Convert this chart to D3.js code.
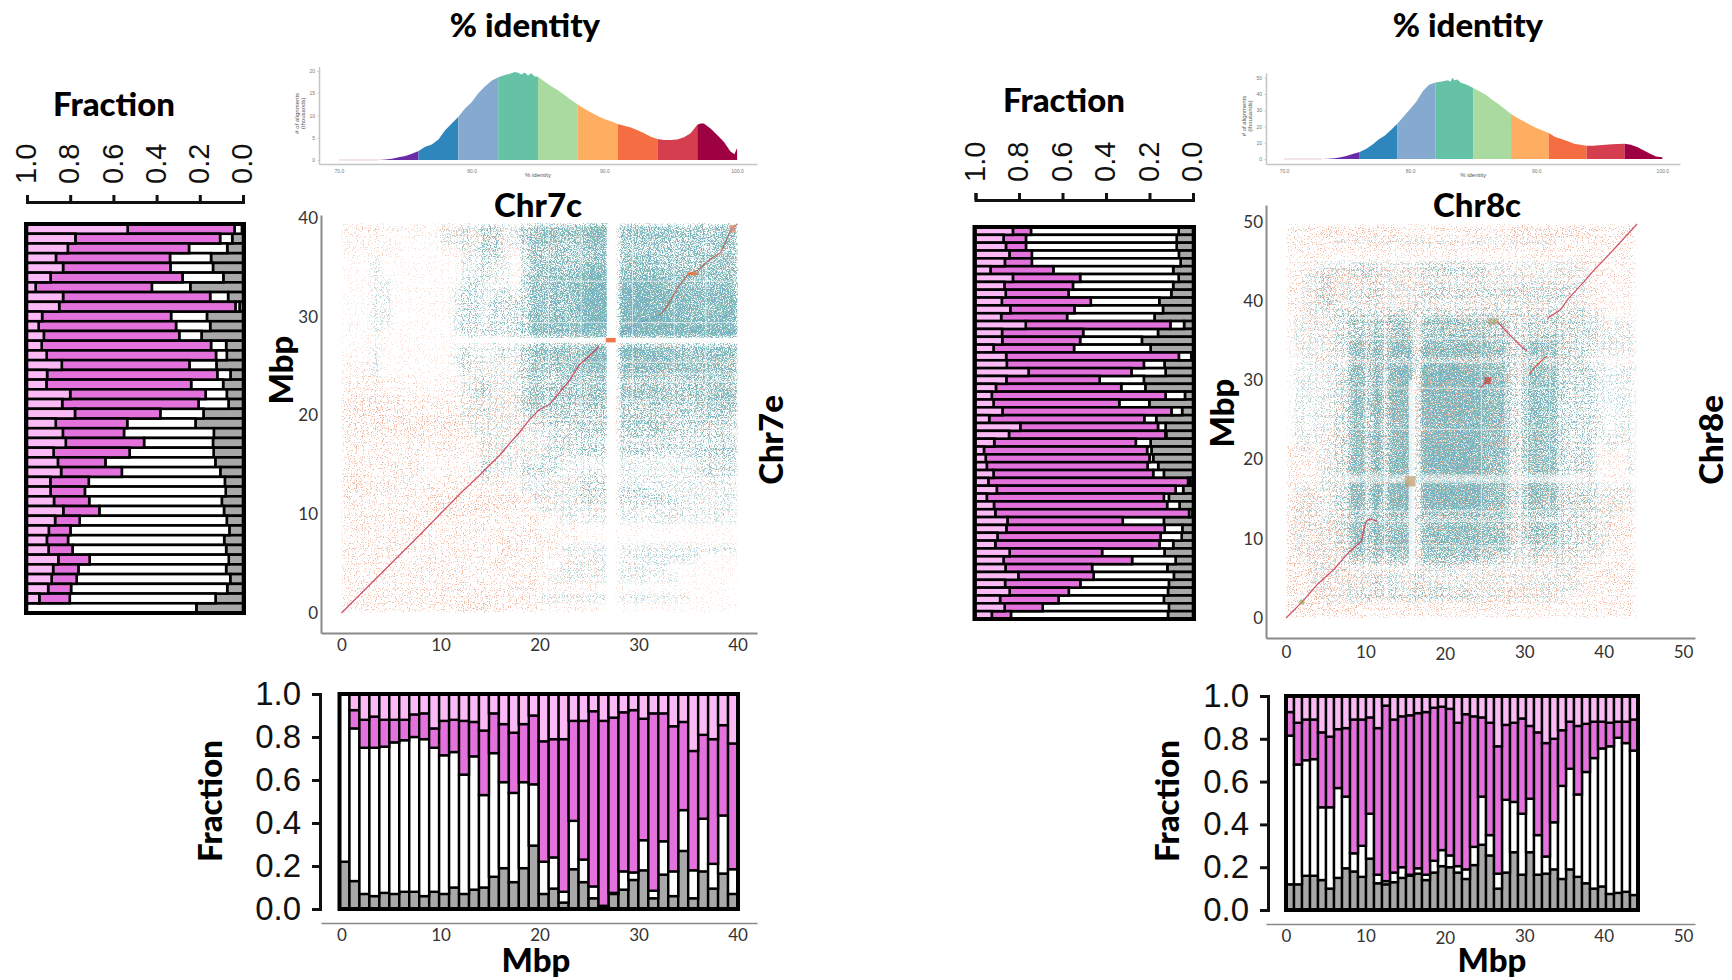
<!doctype html>
<html>
<head>
<meta charset="utf-8">
<style>
  html, body { margin: 0; padding: 0; background: #fff; }
  svg { display: block; }
  .title { font-family: Lato, sans-serif; font-weight: 900; font-size: 33px; fill: #000; text-anchor: middle; }
  .frac text { font-family: "Liberation Sans", sans-serif; fill: #111; }
  .frac line, .frac path { stroke: #111; stroke-width: 3px; fill: none; }
  .mbp text { font-family: Lato, sans-serif; font-size: 17px; fill: #333; }
  .mbp line { display: none; }
  .mbp path { stroke: #8a8a8a; stroke-width: 2px; fill: none; }
  .hist text { font-family: "Liberation Sans", sans-serif; font-size: 5px; fill: #777; }
  .hist line { stroke: #bbb; stroke-width: 0.5px; }
  .hist path { stroke: #c4c4c4; stroke-width: 1.5px; fill: none; }
</style>
<script src="https://d3js.org/d3.v7.min.js"></script>
</head>
<body>
<svg width="1732" height="980"></svg>
<script>
// ---- data ----

var fracTicks = [0, 0.2, 0.4, 0.6, 0.8, 1];
var identityBreaks = [73, 76, 79, 82, 85, 88, 91, 94, 97, 100];
var identityColors = ["#6a2ba8", "#2f86bd", "#86a9cf", "#66c2a5", "#a9dba0", "#fdae61", "#f46d43", "#d53e4f", "#9e0142"];

// % identity histograms
var chr7Identity = [70, 73, 73.5, 74, 74.5, 75, 75.5, 76, 76.5, 77, 77.5, 78, 78.5, 79, 79.5, 80, 80.5, 81, 81.5, 82, 82.5, 83, 83.25, 83.5, 83.75, 84, 84.25, 84.5, 84.75, 85, 85.5, 86, 86.5, 87, 87.5, 88, 88.5, 89, 89.5, 90, 90.5, 91, 91.5, 92, 92.5, 93, 93.5, 94, 94.5, 95, 95.5, 96, 96.5, 97, 97.25, 97.5, 98, 98.5, 99, 99.5, 99.8, 100];
var chr7Counts = [0, 0, 0.1, 0.3, 0.6, 0.9, 1.4, 2, 3, 3.5, 4.6, 6.7, 8.2, 9.7, 11.6, 13, 15, 16.5, 17.8, 18.6, 19.1, 19.5, 19.8, 19.6, 19.2, 19.7, 19, 19.5, 18.8, 18.7, 17.6, 16.6, 15.7, 14.6, 13.5, 12.5, 11.5, 10.7, 9.9, 9.2, 8.7, 8.1, 7.7, 7.3, 6.7, 6, 5.2, 4.7, 4.5, 4.5, 4.6, 5.1, 6, 7.9, 8.2, 8.2, 7.1, 5.6, 4.1, 1.9, 1.3, 2.7];
var chr8Identity = [70, 73, 73.5, 74, 74.5, 75, 75.5, 76, 76.5, 77, 77.5, 78, 78.5, 79, 79.5, 80, 80.5, 81, 81.5, 82, 82.5, 83, 83.2, 83.35, 83.5, 83.75, 84, 84.5, 85, 85.5, 86, 86.5, 87, 87.5, 88, 88.5, 89, 89.5, 90, 90.5, 91, 91.5, 92, 92.5, 93, 93.5, 94, 94.5, 95, 95.5, 96, 96.5, 97, 97.5, 98, 98.5, 99, 99.5, 100];
var chr8Counts = [0, 0, 0.2, 0.4, 1.1, 2, 3.2, 4.3, 6.2, 8.8, 12, 14.4, 18, 21.8, 26.3, 30.8, 35.5, 41.7, 45.8, 47.2, 47.8, 48.5, 47.6, 50, 48.5, 49, 47.2, 45.8, 43.7, 41.7, 39.6, 36.5, 33.9, 30.8, 27.7, 25.3, 23.2, 21.1, 19.1, 17.5, 16, 13.6, 12.3, 10.9, 9.4, 8.8, 8.2, 8.2, 8.4, 8.8, 9, 9.2, 9.4, 8.8, 7.4, 5.3, 3.3, 1.6, 1];

// left stacked bars, top row first (top of the chromosome)
var chr7RowGrey = [.005, .05, .073, .148, .139, .091, .244, .069, .016, .167, .152, .192, .078, .075, .123, .058, .092, .075, .067, .183, .22, .135, .139, .136, .128, .105, .084, .08, .098, .088, .075, .063, .087, .078, .066, .078, .059, .073, .127, .216];
var chr7RowWhite = [.034, .056, .177, .19, .197, .189, .178, .083, .019, .166, .158, .103, .07, .05, .125, .061, .148, .098, .139, .2, .316, .416, .319, .389, .509, .456, .63, .652, .614, .577, .681, .736, .723, .711, .644, .684, .711, .723, .675, .784];
var chr7RowMagenta = [.495, .67, .561, .528, .497, .611, .538, .681, .816, .597, .636, .627, .784, .784, .591, .788, .67, .627, .631, .395, .331, .283, .3625, .352, .22, .281, .178, .159, .163, .167, .114, .1, .098, .111, .145, .117, .116, .106, .141, 0];

var chr8RowGrey = [.066, .075, .075, .065, .057, .091, .066, .091, .1, .155, .138, .177, .041, .161, .235, .195, .008, .131, .126, .226, .219, .037, .201, .05, .169, .126, .123, .195, .191, .183, .16, .134, .012, .045, .111, .062, .003, .134, .049, .052, .091, .131, .08, .118, .088, .111, .115, .134, .111, .115];
var chr8RowWhite = [.679, .693, .693, .676, .684, .551, .453, .461, .472, .315, .407, .402, .063, .344, .284, .352, .057, .095, .157, .203, .111, .089, .138, .049, .055, .035, .004, .068, .02, .017, .049, .049, .011, .035, .023, .057, .015, .189, .081, .097, .063, .287, .2, .346, .369, .407, .456, .484, .58, .722];
var chr8RowMagenta = [.083, .103, .092, .103, .124, .289, .309, .315, .289, .409, .295, .303, .665, .373, .358, .37, .794, .63, .473, .429, .576, .799, .578, .777, .713, .633, .719, .651, .75, .753, .739, .734, .918, .822, .814, .796, .891, .53, .728, .75, .755, .425, .591, .398, .346, .346, .272, .269, .175, .088];

// bottom stacked bars, read as the top edge of each layer
var chr7BarGrey = [.22, .13, .07, .06, .075, .07, .08, .08, .06, .08, .07, .10, .07, .09, .10, .15, .19, .125, .19, .295, .07, .095, .03, .185, .125, .05, .01, .07, .09, .135, .18, .05, .16, .06, .27, .05, .175, .095, .165, .07];
var chr7BarWhiteTop = [1, .84, .75, .75, .755, .775, .785, .80, .79, .75, .715, .73, .625, .71, .53, .725, .59, .54, .59, .58, .22, .24, .08, .41, .23, .105, .015, .075, .175, .17, .32, .085, .315, .175, .46, .18, .42, .21, .435, .185];
var chr7BarMagentaTop = [1, .925, .88, .895, .88, .88, .88, .905, .91, .84, .875, .88, .875, .87, .83, .91, .86, .82, .86, .90, .78, .79, .79, .875, .875, .92, .875, .89, .915, .925, .885, .91, .91, .85, .87, .735, .81, .79, .855, .77];

var chr8BarGrey = [.12, .12, .16, .16, .14, .10, .15, .195, .18, .155, .24, .125, .12, .13, .15, .16, .17, .14, .175, .205, .20, .175, .145, .21, .305, .255, .10, .175, .27, .165, .27, .165, .17, .19, .145, .19, .155, .125, .10, .11, .075, .08, .085, .07];
var chr8BarWhiteTop = [.815, .68, .70, .705, .48, .48, .57, .53, .265, .30, .45, .165, .135, .175, .20, .165, .195, .165, .23, .28, .255, .205, .19, .295, .53, .35, .17, .515, .505, .45, .52, .35, .25, .41, .58, .66, .54, .645, .71, .755, .765, .805, .78, .745];
var chr8BarMagentaTop = [.925, .875, .89, .89, .83, .81, .845, .85, .89, .89, .90, .85, .955, .89, .905, .91, .92, .925, .945, .95, .94, .875, .915, .905, .90, .875, .765, .865, .875, .895, .86, .83, .78, .80, .84, .88, .86, .87, .88, .88, .875, .88, .88, .89];

// dot plots: how crowded each 1 Mbp cell looks (0-9), top row first
var chr7Crowd = [
  "0000000000101122112444445660444444334444",
  "0000000000112133113555556770555555444455",
  "0000000000112133113555445660444444444455",
  "0000000000001133102544444550444444444444",
  "0001000000001122102544445550555544445555",
  "0001000000001121102555556770555555545555",
  "0001100000001211103655567880777766655566",
  "0001100000012211213655567880888877666666",
  "0001100000012212223555567880888877766677",
  "0001100000012212223655567880888887766677",
  "0001100000012212223666667880888888777777",
  "0001000000012222223666667770888888888888",
  "0000000000000101011222222220222222222222",
  "0001000000012111213555556770777666555566",
  "0001000000012111113555556770666666555555",
  "0001000000002111113544555660666655555555",
  "0000000000001121112433444450444444444444",
  "0000000000001231113544444550555544444455",
  "0000000000001111113544445550444444445555",
  "0000000000001121113333333330333333333344",
  "0000000000001111111223333340444433333333",
  "0000000000000111111122223330333333222222",
  "0000000000000011111112222220222222222222",
  "0000000000000011111112223330333222233333",
  "0000000000000021111122111110111111112222",
  "0000000000000121112222111110111111112222",
  "0000000000000011001111112220111111111111",
  "0000000000000000001111112220222111111111",
  "0000000000000000000111112220222222111111",
  "0000000000000000000011111110111111111111",
  "0000000000000000000000111110111111111111",
  "0000000000000000000000000000000000000000",
  "0000000000000000000000000000000000000000",
  "0000000000000000000000111110111111111111",
  "0000000000000000000000011110111111110000",
  "0000000000000000000000111110111110000000",
  "0000000000000000000001111110111111000000",
  "0000000000000000000000000000000000000000",
  "0000000000000000000011111110111111100000",
  "0000000000000000000000000000000000000000"
];
// orange specks, 2 Mbp cells
var chr7Specks = [
  "33222333222222111121", "22211222222111111111", "11111111111111111111", "11111111111111111111",
  "11111111111111111111", "11111111111111111111", "11111111111221112111", "22111122222222222222",
  "33222222222222222222", "44433333332222222222", "44444433332222222122", "33333333222211111112",
  "33332222221111111122", "44333333322221111111", "33334444433222211111", "33333333332211111111",
  "33333333433211111111", "33333333332221111111", "33333333332221111111", "33333344332221111111"
];
var chr7RowGaps = [33.6, 29.4, 25.4, 24.2, 23.4, 21.4, 19.6, 17.2, 15.2];
var chr7ColGaps = [20.9, 24.2, 29.4, 33.6, 36.8];

var chr8Crowd = [
  "00000000000000000000000000000000000000000000",
  "00000000000000000000000000000000000000000000",
  "00000011111111111111111111111111110000000000",
  "00000000000000000000000000000000000000000000",
  "00000000000000000000000000000000000000000000",
  "00001111222211111222222221111111111111000000",
  "00112211222211111222222221111111111111000000",
  "00112211111111111111111111111111111111000000",
  "00112211222211111222222222222222222211000000",
  "00112211222211111222222222222222222211000000",
  "00112211111111111111111111111111111111000000",
  "00111122222222222222222222222222222222110000",
  "01111122443535551555555554442233333222211111",
  "01111122332424441444444443332222222222211111",
  "01111122443535551555555554442244443222211111",
  "01111122553636661666666665552245453222211111",
  "01111122663737771777777776662256563222211111",
  "00111111444444442444444444333233333222110000",
  "01111122663737771888888886662256563222211111",
  "01111122663737771888888886662256563222211111",
  "01111122663737771888888886662256563222211111",
  "01111122663737771888888886662256563222211111",
  "01111122663737771888888886662256563222211111",
  "01111122663737771888888886662256563222211111",
  "01111122663737771888888886662256563222211111",
  "01111122553636661777777776662255553222211111",
  "01111122663737771888888886662256563222211111",
  "01111122663737771888888886662256563222211111",
  "01101122663737771888888886662256563222201101",
  "00001122663737771888888886662256563222200001",
  "00001122663737771888888886662256563222200001",
  "00001122663737771888888886662256563222200001",
  "00001111444444443444444444442133332111100000",
  "01111122773838881888888886662256563222211111",
  "01111122773838881888888886662256563222211111",
  "01111122773838881888888886662256563222211111",
  "01111122553636661666666665552245453222211111",
  "01111122444444443444444444442233332222111000",
  "01111122664646661666666665552245453222211000",
  "01111122664646661666666665552245453222211000",
  "01111122664646661666666665552234333222211000",
  "01111112554545551555555554442223222221110000",
  "00111111442424441444444444222112112111100000",
  "00011111111111111222222111111111111111000000",
  "00011111111212112111111111111111111110000000",
  "00011111111212112111111111111111111110000000",
  "00011111221212112222222211111111111110000000",
  "00001111222222222222222211111111111000000000",
  "00000000000000000000000000000000000000000000",
  "00000000000000000000000000000000000000000000"
];
var chr8Specks = [
  "3344444333343344444434", "3333333333333333333333", "2322222222222222223323", "3344444433333333333333",
  "3344443333333333333322", "3333333333333333333322", "2332333333333333332222", "2232333333333333332222",
  "2232333333333333332222", "1122333333333333222112", "1123334344433322112101", "1123334443433322112101",
  "1123334444433322211201", "2133333444433333221112", "3333333333333332222222", "3333333333333333322222",
  "3333333333333333322222", "3433333333333333333333", "4433333333333333323343", "4444333333333333333344",
  "4444333333333333333333", "4444333333333333333333", "4444433333333333333344", "4444433333334444433333",
  "4444433333333333333333"
];
var chr8RowGaps = [37.9, 35.2, 32.3, 29, 23.8, 13.5, 12.2, 9.1, 6.2];
var chr8ColGaps = [10.1, 12.4, 24.6, 27.7, 29.5, 30.4, 33.2, 34.5];

// main alignment traces, [c, e] in Mbp
var chr7Trace = [[0, 0], [4, 4], [8, 8], [12, 12.1], [14, 14], [15, 15], [16, 16], [17, 17.2], [18, 18.3], [19, 19.6], [20, 20.6], [21, 21.1], [22, 22.3], [23, 23.5], [24, 25.1], [25, 26], [26, 27]];
var chr7TraceFaint = [[28, 28.2], [30, 29.4], [32.1, 30.1]];
var chr7TraceUpper = [[32.1, 30.1], [33, 31.2], [34, 33], [35, 34.3], [36, 34.7], [37.2, 35.8], [38.3, 36.5], [39.4, 38.9], [40, 39.4]];
var chr8Trace = [[0, 0], [2, 2], [4, 4.3], [6, 6.1], [8, 8.4], [9.5, 9.7], [9.8, 11.1], [10.1, 12.2], [10.6, 12.5], [11.5, 12.2]];
var chr8TraceInverted = [[26.6, 37.4], [28, 35.9], [29.7, 34.2], [30.3, 33.7]];
var chr8TraceMiddle = [[30.6, 30.7], [31.2, 31.5], [32.5, 32.8], [32.9, 33]];
var chr8TraceShort = [[24.5, 29], [25.3, 30]];
var chr8TraceUpper = [[32.9, 37.8], [34.6, 38.9], [35.4, 40.1], [37.5, 42.4], [38.8, 43.9], [41, 46.2], [44.2, 49.7]];

// ---- drawing ----

var svg = d3.select("svg");
var defs = svg.append("defs");

var layerKeys = ["grey", "white", "magenta", "light"];
var layerColor = { grey: "#a8a8a8", white: "#ffffff", magenta: "#e472dc", light: "#fbbaf6" };

function title(txt, x, y, rotate) {
    svg.append("text")
       .attr("class", "title")
       .attr("transform", "translate(" + x + "," + y + ")" + (rotate ? " rotate(-90)" : ""))
       .attr("dy", "0.35em")
       .text(txt);
}

function stackLayers(grey, white, magenta) {
    var rows = grey.map(function(g, i) {
        return { index: i, grey: g, white: white[i], magenta: magenta[i], light: Math.max(0, 1 - g - white[i] - magenta[i]) };
    });
    return d3.stack().keys(layerKeys)(rows);
}

// horizontal stack with 1.0 on the left
function rowChart(grey, white, magenta, x0, x1, y0, y1, axisY) {
    var x = d3.scaleLinear().domain([1, 0]).range([x0, x1]);
    var y = d3.scaleBand().domain(d3.range(grey.length)).range([y0, y1]);

    var ax = svg.append("g")
        .attr("class", "frac")
        .attr("transform", "translate(0," + axisY + ")")
        .call(d3.axisTop(x).tickValues(fracTicks).tickFormat(d3.format(".1f")).tickSize(7));
    ax.selectAll("text")
      .style("font-size", "29px")
      .attr("transform", "rotate(-90)")
      .attr("x", 18)
      .attr("y", -1.5)
      .attr("dy", "0.35em")
      .attr("text-anchor", "start");

    var g = svg.append("g");
    g.selectAll("g")
     .data(stackLayers(grey, white, magenta))
     .enter().append("g")
     .attr("fill", function(d) { return layerColor[d.key]; })
     .selectAll("rect")
     .data(function(d) { return d.filter(function(v) { return v[1] - v[0] > 0.001; }); })
     .enter().append("rect")
     .attr("x", function(d) { return x(d[1]); })
     .attr("y", function(d) { return y(d.data.index); })
     .attr("width", function(d) { return x(d[0]) - x(d[1]); })
     .attr("height", y.bandwidth())
     .attr("stroke", "#000")
     .attr("stroke-width", 2.6);

    svg.append("rect")
       .attr("x", x0 - 1).attr("y", y0)
       .attr("width", x1 - x0 + 2).attr("height", y1 - y0)
       .attr("fill", "none").attr("stroke", "#000").attr("stroke-width", 4);
}

// vertical stack under the dot plot
function barChart(grey, whiteTop, magentaTop, x0, x1, y0, y1, axisX) {
    var white = grey.map(function(g, i) { return whiteTop[i] - g; });
    var magenta = whiteTop.map(function(w, i) { return magentaTop[i] - w; });
    var x = d3.scaleBand().domain(d3.range(grey.length)).range([x0, x1]);
    var y = d3.scaleLinear().domain([0, 1]).range([y0, y1]);

    svg.append("g")
       .attr("class", "frac")
       .attr("transform", "translate(" + axisX + ",0)")
       .call(d3.axisLeft(y).tickValues(fracTicks).tickFormat(d3.format(".1f")).tickSize(8).tickPadding(11))
       .selectAll("text").style("font-size", "33px");

    var g = svg.append("g");
    g.selectAll("g")
     .data(stackLayers(grey, white, magenta))
     .enter().append("g")
     .attr("fill", function(d) { return layerColor[d.key]; })
     .selectAll("rect")
     .data(function(d) { return d.filter(function(v) { return v[1] - v[0] > 0.001; }); })
     .enter().append("rect")
     .attr("x", function(d) { return x(d.data.index); })
     .attr("y", function(d) { return y(d[1]); })
     .attr("width", x.bandwidth())
     .attr("height", function(d) { return y(d[0]) - y(d[1]); })
     .attr("stroke", "#000")
     .attr("stroke-width", 2.4);

    svg.append("rect")
       .attr("x", x0).attr("y", y1)
       .attr("width", x1 - x0).attr("height", y0 - y1)
       .attr("fill", "none").attr("stroke", "#000").attr("stroke-width", 4);
}

function histogram(ids, counts, sx, sy, yTicks) {
    var g = svg.append("g");
    var line = d3.area()
        .x(function(d) { return sx(d[0]); })
        .y0(sy(0))
        .y1(function(d) { return sy(d[1]); });
    var pts = ids.map(function(v, i) { return [v, counts[i]]; });

    g.append("line")
     .attr("x1", sx(70)).attr("x2", sx(73)).attr("y1", sy(0)).attr("y2", sy(0))
     .attr("stroke", "#e8c8d8").attr("stroke-width", 1);

    identityColors.forEach(function(c, i) {
        var seg = pts.filter(function(p) { return p[0] >= identityBreaks[i] && p[0] <= identityBreaks[i + 1]; });
        g.append("path").attr("d", line(seg)).attr("fill", c);
    });

    svg.append("g").attr("class", "hist")
        .attr("transform", "translate(0," + sy.range()[0] + ")")
        .call(d3.axisBottom(sx).tickValues([70, 80, 90, 100]).tickFormat(d3.format(".1f")).tickSize(0).tickPadding(5));
    svg.append("g").attr("class", "hist")
        .attr("transform", "translate(" + sx.range()[0] + ",0)")
        .call(d3.axisLeft(sy).tickValues(yTicks).tickSize(2).tickSizeOuter(0).tickPadding(2));

    var mid = (sx(70) + sx(100)) / 2;
    svg.append("text")
       .attr("x", mid).attr("y", sy.range()[0] + 13)
       .attr("text-anchor", "middle")
       .style("font-family", "Liberation Sans").style("font-size", "6px").style("fill", "#555")
       .text("% identity");
    var lab = svg.append("text")
       .attr("transform", "translate(" + (sx.range()[0] - 20) + "," + ((sy(0) + sy.range()[1]) / 2) + ") rotate(-90)")
       .attr("text-anchor", "middle")
       .style("font-family", "Liberation Sans").style("font-size", "6px").style("fill", "#555");
    lab.append("tspan").attr("x", 0).text("# of alignments");
    lab.append("tspan").attr("x", 0).attr("dy", 6).text("(thousands)");
}

// turns a smooth alpha field into soft grain, the scatter of alignment dots
function grainFilter(id, color, seed, box) {
    var f = defs.append("filter").attr("id", id)
        .attr("filterUnits", "userSpaceOnUse")
        .attr("x", box[0]).attr("y", box[1]).attr("width", box[2]).attr("height", box[3])
        .attr("color-interpolation-filters", "sRGB");
    f.append("feGaussianBlur").attr("in", "SourceAlpha").attr("stdDeviation", 2.2).attr("result", "field");
    f.append("feTurbulence").attr("type", "fractalNoise").attr("baseFrequency", 0.85)
     .attr("numOctaves", 2).attr("seed", seed).attr("result", "n");
    f.append("feColorMatrix").attr("in", "n").attr("type", "matrix")
     .attr("values", "0 0 0 0 0  0 0 0 0 0  0 0 0 0 0  2.6 0 0 0 -0.8").attr("result", "noise");
    f.append("feComposite").attr("in", "field").attr("in2", "noise").attr("operator", "arithmetic")
     .attr("k1", 0).attr("k2", 1).attr("k3", 1).attr("k4", -1).attr("result", "m");
    var t = f.append("feComponentTransfer").attr("in", "m").attr("result", "mask");
    t.append("feFuncA").attr("type", "linear").attr("slope", 3);
    f.append("feFlood").attr("flood-color", color).attr("result", "c");
    f.append("feComposite").attr("in", "c").attr("in2", "mask").attr("operator", "in").attr("result", "dots");
    f.append("feGaussianBlur").attr("in", "dots").attr("stdDeviation", 0.55);
}

function crowdLayer(plot, grid, cellSize, sx, sy, maxX, maxY, color, seed, gain, id) {
    var box = [sx(0), sy(maxY), sx(maxX) - sx(0), sy(0) - sy(maxY)];
    grainFilter(id, color, seed, box);
    var cells = [];
    grid.forEach(function(row, r) {
        for (var c = 0; c < row.length; c++) {
            var v = +row[c];
            if (v > 0) {
                cells.push({ x: c * cellSize, y: (grid.length - 1 - r) * cellSize, v: v });
            }
        }
    });
    var clipId = id + "-clip";
    defs.append("clipPath").attr("id", clipId).append("rect")
        .attr("x", box[0]).attr("y", box[1]).attr("width", box[2]).attr("height", box[3]);
    var alpha = d3.scalePow().exponent(0.7).domain([0, 9]).range([0, gain]);
    plot.append("g").attr("filter", "url(#" + id + ")")
        .append("g").attr("clip-path", "url(#" + clipId + ")")
        .selectAll("rect").data(cells).enter().append("rect")
        .attr("x", function(d) { return sx(d.x); })
        .attr("y", function(d) { return sy(d.y + cellSize); })
        .attr("width", sx(cellSize) - sx(0))
        .attr("height", sy(0) - sy(cellSize))
        .attr("fill", "#000")
        .attr("fill-opacity", function(d) { return alpha(d.v); })
        .attr("shape-rendering", "crispEdges");
}

function dotPlot(opt) {
    var sx = opt.sx, sy = opt.sy;
    var xAxis = svg.append("g").attr("class", "mbp")
       .attr("transform", "translate(0," + sy.range()[0] + ")")
       .call(d3.axisBottom(sx).tickValues(opt.xTicks).tickSize(0).tickSizeOuter(0).tickPadding(opt.pad));
    if (opt.lowTwenty) {
        xAxis.selectAll(".tick text").filter(function(d) { return d === 20; }).attr("dy", "0.85em");
    }
    svg.append("g").attr("class", "mbp")
       .attr("transform", "translate(" + sx.range()[0] + ",0)")
       .call(d3.axisLeft(sy).tickValues(opt.yTicks).tickSize(0).tickSizeOuter(0).tickPadding(3));

    var plot = svg.append("g");
    crowdLayer(plot, opt.crowd, 1, sx, sy, opt.maxX, opt.maxY, "#7cc0b4", opt.seed, 0.95, opt.id + "-teal");
    crowdLayer(plot, opt.crowd, 1, sx, sy, opt.maxX, opt.maxY, "#74acca", opt.seed + 7, 0.68, opt.id + "-blue");
    crowdLayer(plot, opt.specks, 2, sx, sy, opt.maxX, opt.maxY, "#efb59c", opt.seed + 13, 0.62, opt.id + "-orange");

    var gaps = plot.append("g").attr("stroke", "#fff").attr("stroke-opacity", 0.6).attr("stroke-width", 1);
    opt.rowGaps.forEach(function(v) {
        gaps.append("line").attr("x1", sx(opt.gapX[0])).attr("x2", sx(opt.gapX[1])).attr("y1", sy(v)).attr("y2", sy(v));
    });
    opt.colGaps.forEach(function(v) {
        gaps.append("line").attr("x1", sx(v)).attr("x2", sx(v)).attr("y1", sy(opt.gapY[0])).attr("y2", sy(opt.gapY[1]));
    });

    var path = d3.line().x(function(d) { return sx(d[0]); }).y(function(d) { return sy(d[1]); });
    opt.traces.forEach(function(t) {
        plot.append("path").attr("d", path(t.pts)).attr("fill", "none")
            .attr("stroke", t.color).attr("stroke-width", 1.3).attr("stroke-opacity", t.op);
    });
    opt.blobs.forEach(function(b) {
        plot.append("rect")
            .attr("x", sx(b[0])).attr("y", sy(b[1] + b[3]))
            .attr("width", sx(b[2]) - sx(0)).attr("height", sy(0) - sy(b[3]))
            .attr("fill", b[4]).attr("fill-opacity", b[5]);
    });
}

// ---- left column ----

title("% identity", 525, 25);
title("Fraction", 114, 104);
title("Chr7c", 538, 205);
title("Mbp", 281, 370, true);
title("Chr7e", 771, 440, true);
title("Fraction", 210, 801, true);
title("Mbp", 536, 960);

histogram(chr7Identity, chr7Counts,
    d3.scaleLinear().domain([68.5, 101.5]).range([319, 757]),
    d3.scaleLinear().domain([-0.9, 21]).range([164, 66.6]),
    [0, 5, 10, 15, 20]);

rowChart(chr7RowGrey, chr7RowWhite, chr7RowMagenta, 27, 243, 224, 613, 202);
barChart(chr7BarGrey, chr7BarWhiteTop, chr7BarMagentaTop, 339.5, 738, 909, 694, 320);

dotPlot({
    id: "chr7", seed: 3,
    sx: d3.scaleLinear().domain([-2.07, 41.97]).range([321, 757]),
    sy: d3.scaleLinear().domain([-2.03, 40.3]).range([633, 215]),
    xTicks: [0, 10, 20, 30, 40], yTicks: [0, 10, 20, 30, 40], pad: 6,
    crowd: chr7Crowd, specks: chr7Specks, maxX: 40, maxY: 39.4,
    rowGaps: chr7RowGaps, colGaps: chr7ColGaps, gapX: [18.5, 40], gapY: [20, 39.4],
    traces: [
        { pts: chr7Trace, color: "#c8405c", op: 0.9 },
        { pts: chr7TraceFaint, color: "#4f78a8", op: 0.35 },
        { pts: chr7TraceUpper, color: "#b85a4c", op: 0.8 }
    ],
    blobs: [
        [26.8, 0, 0.9, 39.4, "#fff", 0.9],
        [12, 27.35, 28, 0.5, "#fff", 0.85],
        [26.7, 27.4, 1, 0.45, "#ee6a38", 0.9],
        [35, 34.2, 1, 0.3, "#e0703c", 0.85],
        [39.2, 38.5, 0.6, 0.8, "#d98a70", 0.7]
    ]
});

var chr7AxisX = d3.scaleLinear().domain([-2.07, 41.97]).range([321, 757]);
svg.append("g").attr("class", "mbp")
   .attr("transform", "translate(0,923)")
   .call(d3.axisBottom(chr7AxisX).tickValues([0, 10, 20, 30, 40]).tickSize(0).tickSizeOuter(0).tickPadding(6))
   .select("path").style("stroke-width", "1.5px");

// ---- right column ----

title("% identity", 1468, 25);
title("Fraction", 1064, 100);
title("Chr8c", 1477, 205);
title("Mbp", 1222, 413, true);
title("Chr8e", 1711, 440, true);
title("Fraction", 1167, 801, true);
title("Mbp", 1492, 960);

histogram(chr8Identity, chr8Counts,
    d3.scaleLinear().domain([68.57, 101.4]).range([1266, 1680]),
    d3.scaleLinear().domain([-3.1, 53]).range([164, 73]),
    [0, 10, 20, 30, 40, 50]);

rowChart(chr8RowGrey, chr8RowWhite, chr8RowMagenta, 975.5, 1193, 227, 619, 200);
barChart(chr8BarGrey, chr8BarWhiteTop, chr8BarMagentaTop, 1286, 1638, 910, 696, 1268);

dotPlot({
    id: "chr8", seed: 21, lowTwenty: true,
    sx: d3.scaleLinear().domain([-2.52, 51.5]).range([1266, 1695]),
    sy: d3.scaleLinear().domain([-2.52, 52.1]).range([638, 205]),
    xTicks: [0, 10, 20, 30, 40, 50], yTicks: [0, 10, 20, 30, 40, 50], pad: 8,
    crowd: chr8Crowd, specks: chr8Specks, maxX: 44.3, maxY: 49.7,
    rowGaps: chr8RowGaps, colGaps: chr8ColGaps, gapX: [7.5, 34], gapY: [6, 38],
    traces: [
        { pts: chr8Trace, color: "#c8405c", op: 0.9 },
        { pts: chr8TraceInverted, color: "#c8405c", op: 0.85 },
        { pts: chr8TraceMiddle, color: "#d0503c", op: 0.9 },
        { pts: chr8TraceShort, color: "#c8405c", op: 0.8 },
        { pts: chr8TraceUpper, color: "#c8405c", op: 0.85 }
    ],
    blobs: [
        [15.45, 6, 0.8, 24, "#fff", 0.75],
        [7.5, 17, 30, 1.1, "#fff", 0.35],
        [15, 16.6, 1.3, 1.3, "#b98a50", 0.6],
        [25, 29.5, 0.8, 0.9, "#c8504c", 0.8],
        [1.7, 1.7, 0.6, 0.6, "#a9a060", 0.7],
        [25.4, 37, 1.4, 0.8, "#b0a070", 0.6]
    ]
});

var chr8AxisX = d3.scaleLinear().domain([-2.52, 51.5]).range([1266, 1695]);
var chr8BottomAxis = svg.append("g").attr("class", "mbp")
   .attr("transform", "translate(0,924)")
   .call(d3.axisBottom(chr8AxisX).tickValues([0, 10, 20, 30, 40, 50]).tickSize(0).tickSizeOuter(0).tickPadding(6));
chr8BottomAxis.select("path").style("stroke-width", "1.5px");
chr8BottomAxis.selectAll(".tick text").filter(function(d) { return d === 20; }).attr("dy", "0.85em");
</script>
</body>
</html>
